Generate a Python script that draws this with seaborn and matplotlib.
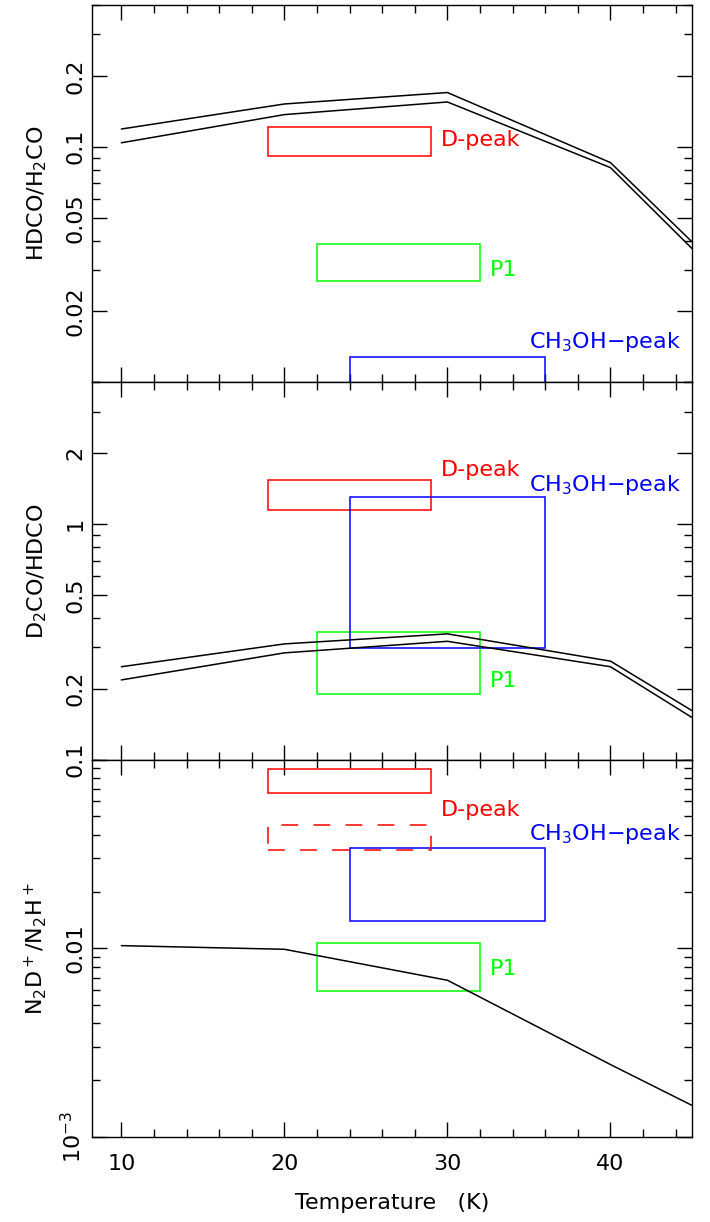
"""
Three stacked log panels: deuterium fractionation ratios vs. gas temperature,
model curves (black) with observed ranges as boxes.
"""
import matplotlib
matplotlib.use("Agg")
import numpy as np
import pandas as pd
import matplotlib.pyplot as plt
import matplotlib.ticker as mticker
from matplotlib.patches import Rectangle
import seaborn as sns

# model temperatures (K)
temperature = [10, 20, 30, 40, 45]

# HDCO/H2CO model curves (two runs)
hdco_upper = [0.119, 0.152, 0.170, 0.0857, 0.0395]
hdco_lower = [0.104, 0.137, 0.155, 0.0816, 0.0370]

# D2CO/HDCO model curves
d2co_upper = [0.248, 0.310, 0.342, 0.262, 0.1615]
d2co_lower = [0.218, 0.284, 0.318, 0.248, 0.151]

# N2D+/N2H+ model curve
n2d_model = [0.01033, 0.00988, 0.00677, 0.00242, 0.00147]

# observed ranges: (T_min, T_max) and (ratio_min, ratio_max)
sources = ["D-peak", "P1", "CH$_3$OH$-$peak"]
source_colors = ["red", "#00ff00", "blue"]
source_T = {"D-peak": (19, 29), "P1": (22, 32), "CH$_3$OH$-$peak": (24, 36)}

hdco_obs = {"D-peak": (0.0915, 0.1217), "P1": (0.0269, 0.0387), "CH$_3$OH$-$peak": (0.005, 0.0128)}
d2co_obs = {"D-peak": (1.15, 1.533), "P1": (0.19, 0.349), "CH$_3$OH$-$peak": (0.299, 1.302)}
n2d_obs = {"D-peak": (0.0668, 0.0889), "P1": (0.00592, 0.0107), "CH$_3$OH$-$peak": (0.014, 0.034)}
n2d_dpeak_dashed = (0.0331, 0.0451)

# label anchor (T, ratio) per panel
hdco_lab = {"D-peak": (29.6, 0.107), "P1": (32.6, 0.0301), "CH$_3$OH$-$peak": (35.0, 0.0149)}
d2co_lab = {"D-peak": (29.6, 1.70), "P1": (32.6, 0.215), "CH$_3$OH$-$peak": (35.0, 1.47)}
n2d_lab = {"D-peak": (29.6, 0.0543), "P1": (32.6, 0.0078), "CH$_3$OH$-$peak": (35.0, 0.0402)}

# y tick layout per panel
hdco_ticks = [0.02, 0.05, 0.1, 0.2]
hdco_ticklabels = ["0.02", "0.05", "0.1", "0.2"]
d2co_ticks = [0.2, 0.5, 1, 2]
d2co_ticklabels = ["0.2", "0.5", "1", "2"]
n2d_ticks = [0.001, 0.01, 0.1]
n2d_ticklabels = ["10$^{-3}$", "0.01", "0.1"]

FS = 16


def draw_box(ax, T, r, color, ls="-"):
    ax.add_patch(Rectangle((T[0], r[0]), T[1] - T[0], r[1] - r[0],
                           fill=False, edgecolor=color, lw=1.1, ls=ls,
                           clip_on=True, zorder=2))


def style_axis(ax, ylim, ticks, ticklabels, ylabel):
    ax.set_yscale("log")
    ax.set_ylim(*ylim)
    ax.set_xlim(8.2, 45)
    ax.yaxis.set_major_locator(mticker.FixedLocator(ticks))
    ax.yaxis.set_major_formatter(mticker.FixedFormatter(ticklabels))
    ax.yaxis.set_minor_locator(mticker.LogLocator(base=10, subs=np.arange(1, 10)))
    ax.yaxis.set_minor_formatter(mticker.NullFormatter())
    ax.xaxis.set_major_locator(mticker.MultipleLocator(10))
    ax.xaxis.set_minor_locator(mticker.MultipleLocator(2))
    ax.tick_params(which="both", direction="in", top=True, right=True,
                   left=True, bottom=True, color="black", labelcolor="black")
    ax.tick_params(which="major", length=11, width=1)
    ax.tick_params(which="minor", length=6, width=1)
    ax.tick_params(axis="y", which="major", labelsize=FS, pad=5)
    ax.tick_params(axis="x", which="major", labelsize=FS, pad=12)
    for lab in ax.get_yticklabels():
        lab.set_rotation(90)
        lab.set_va("center")
    ax.set_ylabel(ylabel, fontsize=FS, labelpad=8, color="black")
    for sp in ax.spines.values():
        sp.set_color("black")
        sp.set_linewidth(1.0)
    ax.grid(False)


def panel(ax, curves, obs, labs, extra=None):
    for c in curves:
        df = pd.DataFrame({"T": temperature, "ratio": c})
        sns.lineplot(data=df, x="T", y="ratio", ax=ax, color="black", lw=1.1, zorder=3)
    for s, col in zip(sources, source_colors):
        draw_box(ax, source_T[s], obs[s], col)
        tx, ty = labs[s]
        ax.text(tx, ty, s, color=col, fontsize=FS, ha="left", va="center", zorder=4)
    if extra is not None:
        extra(ax)


def main():
    sns.set_theme(style="white")
    plt.rcParams["font.family"] = ["DejaVu Sans"]
    plt.rcParams["mathtext.default"] = "regular"

    fig, axes = plt.subplots(3, 1, figsize=(7.1, 12.22), dpi=100, sharex=True)
    fig.subplots_adjust(left=0.1296, right=0.9746, top=0.9959, bottom=0.0696, hspace=0)

    panel(axes[0], [hdco_upper, hdco_lower], hdco_obs, hdco_lab)
    panel(axes[1], [d2co_upper, d2co_lower], d2co_obs, d2co_lab)
    panel(axes[2], [n2d_model], n2d_obs, n2d_lab,
          extra=lambda ax: draw_box(ax, source_T["D-peak"], n2d_dpeak_dashed, "red", ls=(0, (11, 10))))

    style_axis(axes[0], (0.01, 0.4), hdco_ticks, hdco_ticklabels, "HDCO/H$_2$CO")
    style_axis(axes[1], (0.1, 4.0), d2co_ticks, d2co_ticklabels, "D$_2$CO/HDCO")
    style_axis(axes[2], (0.001, 0.1), n2d_ticks, n2d_ticklabels, "N$_2$D$^+$/N$_2$H$^+$")

    for ax in axes[:2]:
        ax.set_xlabel("")
    axes[2].set_xlabel("Temperature   (K)", fontsize=FS, labelpad=14, color="black")

    fig.align_ylabels(axes)

    fig.savefig("out.png", dpi=100)


if __name__ == "__main__":
    main()
